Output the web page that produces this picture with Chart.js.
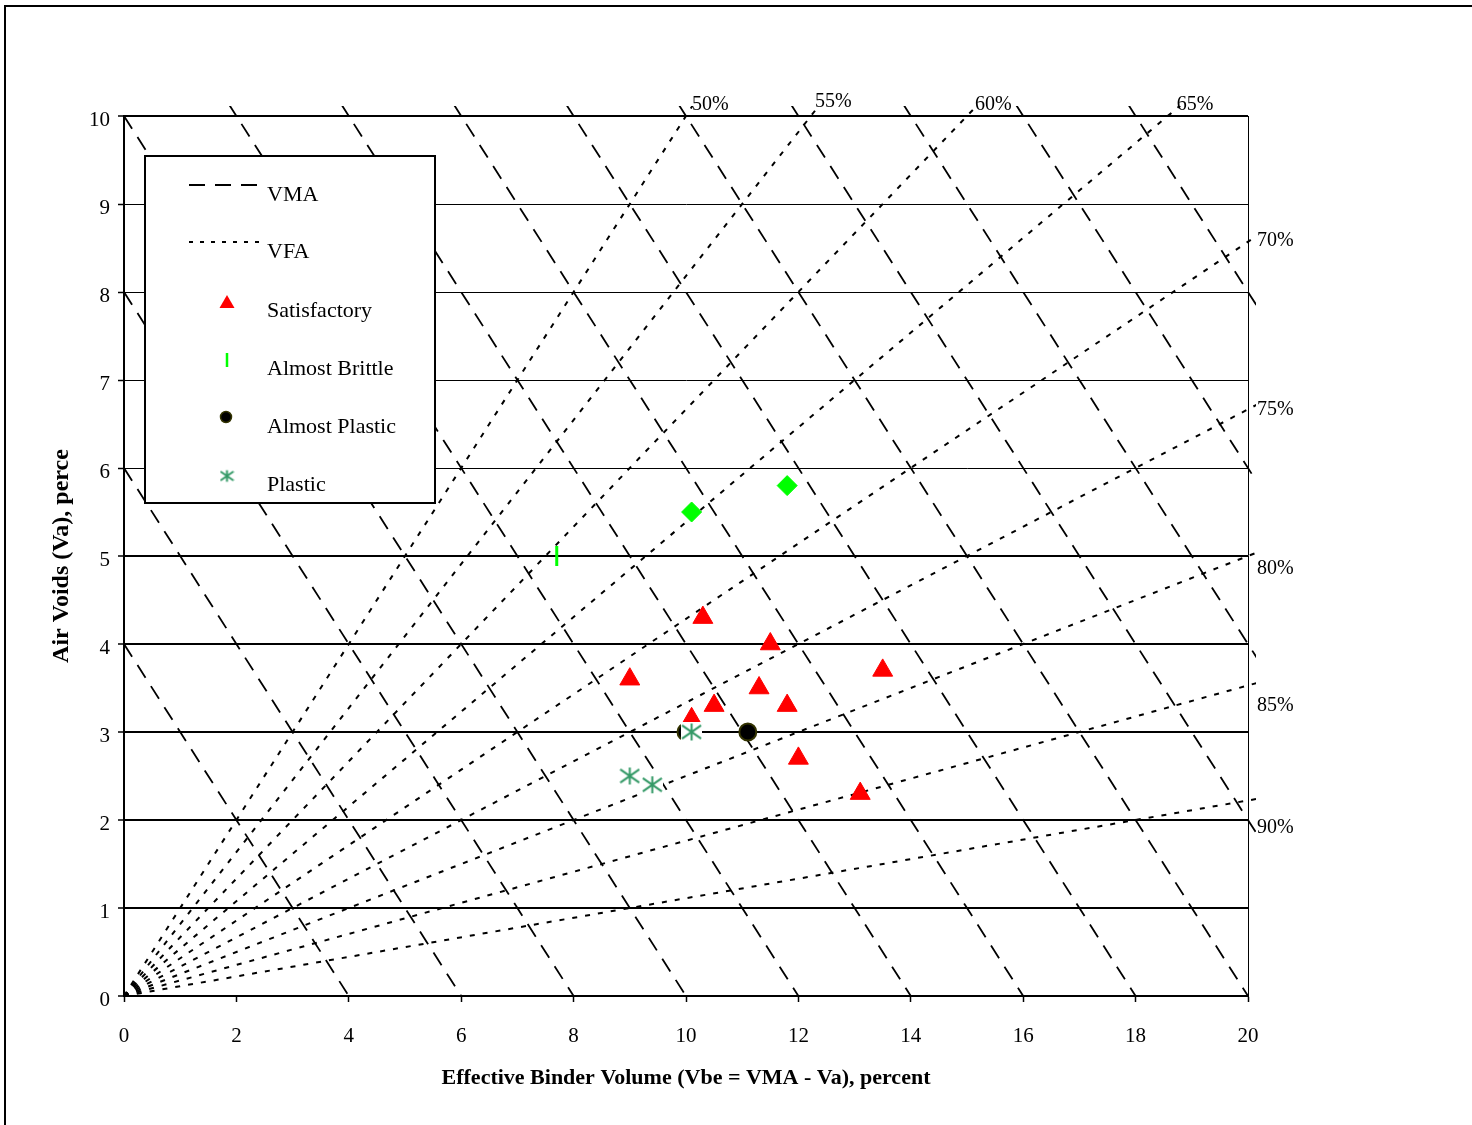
<!DOCTYPE html>
<html lang="en">
<head>
<meta charset="UTF-8">
<title>VMA / VFA chart</title>
<script src="https://cdn.jsdelivr.net/npm/chart.js"></script>
<style>
  body { margin: 0; background: #fff; }
  #wrap { width: 1472px; height: 1125px; }
</style>
</head>
<body>
<div id="wrap"><canvas id="chart" width="1472" height="1125"></canvas></div>
<script>
// reference lines
const vmaLevels = [4, 6, 8, 10, 12, 14, 16, 18, 20, 22, 24, 26, 28];
const vfaLevels = [50, 55, 60, 65, 70, 75, 80, 85, 90];
const vfaLabels = ['50%', '55%', '60%', '65%', '70%', '75%', '80%', '85%', '90%'];

// axes
const xTickValues = [0, 2, 4, 6, 8, 10, 12, 14, 16, 18, 20];
const yTickValues = [0, 1, 2, 3, 4, 5, 6, 7, 8, 9, 10];

// mixes (Vbe, Va)
const satisfactoryVbe = [10.3, 11.5, 9.0, 13.5, 11.3, 10.5, 11.8, 10.1, 12.0, 13.1];
const satisfactoryVa  = [4.3, 4.0, 3.6, 3.7, 3.5, 3.3, 3.3, 3.15, 2.7, 2.3];
const brittleVbe = [7.7];
const brittleVa  = [5.0];
const otherVbe = [10.1, 11.8];
const otherVa  = [5.5, 5.8];
const almostPlasticVbe = [10.0, 11.1];
const almostPlasticVa  = [3.0, 3.0];
const plasticVbe = [10.1, 9.0, 9.4];
const plasticVa  = [3.0, 2.5, 2.4];

// label nudges (px) for the VFA % labels
const vfaLabelNudge = [[6, -11], [4, -14], [8, -11], [9, -11], [9, -1], [9, 0], [9, 13], [9, 20], [9, 27]];

const serif = "'Liberation Serif', 'Times New Roman', serif";
const xMax = 20, yMax = 10;

function pairs(xs, ys) {
    return xs.map((x, i) => ({ x: x, y: ys[i] }));
}

// asterisk marker, optionally with a white box behind it
function starImage(size, withBox) {
    const c = document.createElement('canvas');
    c.width = size; c.height = size;
    const g = c.getContext('2d');
    if (withBox) { g.fillStyle = '#fff'; g.fillRect(0, 0, size, size); }
    const m = size / 2, r = size / 2 - 1;
    g.strokeStyle = '#339966';
    g.lineWidth = size > 14 ? 2 : 1.6;
    g.beginPath();
    g.moveTo(m, m - r * 0.9); g.lineTo(m, m + r * 0.9);
    g.moveTo(m - r, m - r * 0.7); g.lineTo(m + r, m + r * 0.7);
    g.moveTo(m + r, m - r * 0.7); g.lineTo(m - r, m + r * 0.7);
    g.stroke();
    return c;
}
const starBig = starImage(21, true);
const starSmall = starImage(15, false);

// lines of constant VMA: Va = VMA - Vbe (run a little past the top edge)
const vmaDatasets = vmaLevels.map(v => ({
    label: 'VMA ' + v,
    data: v > yMax ? [{ x: v - yMax - 0.15, y: yMax + 0.15 }, { x: v, y: 0 }] : [{ x: 0, y: v }, { x: v, y: 0 }],
    showLine: true,
    borderColor: '#000',
    borderWidth: 1.8,
    borderDash: [15, 10],
    pointRadius: 0,
    clip: { left: 0, top: 10, right: 8, bottom: 0 }
}));

// lines of constant VFA: Va = Vbe * (1 - VFA) / VFA
const vfaDatasets = vfaLevels.map(p => {
    const k = (100 - p) / p;
    return {
        label: 'VFA ' + p,
        data: [{ x: 0, y: 0 }, { x: 21, y: 21 * k }],
        showLine: true,
        borderColor: '#000',
        borderWidth: 2,
        borderDash: [5, 8],
        pointRadius: 0,
        clip: { left: 0, top: 10, right: 8, bottom: 0 }
    };
});

const decor = {
    id: 'decor',
    beforeDraw(chart) {
        const c = chart.ctx;
        c.save();
        c.fillStyle = '#fff';
        c.fillRect(0, 0, chart.width, chart.height);
        c.strokeStyle = '#000';
        c.lineWidth = 2;
        c.beginPath();
        c.moveTo(5, chart.height); c.lineTo(5, 6); c.lineTo(chart.width, 6);
        c.stroke();
        c.restore();
    },
    afterDatasetsDraw(chart) {
        const c = chart.ctx, xs = chart.scales.x, ys = chart.scales.y, a = chart.chartArea;
        c.save();
        // VFA labels at the line ends
        c.font = '20px ' + serif;
        c.fillStyle = '#000';
        c.textAlign = 'left';
        c.textBaseline = 'middle';
        vfaLevels.forEach((p, i) => {
            const k = (100 - p) / p;
            let px, py;
            if (xMax * k >= yMax) { px = xs.getPixelForValue(yMax / k); py = ys.getPixelForValue(yMax); }
            else { px = xs.getPixelForValue(xMax); py = ys.getPixelForValue(xMax * k); }
            c.fillText(vfaLabels[i], px + vfaLabelNudge[i][0], py + vfaLabelNudge[i][1]);
        });

        // legend box
        const bx = a.left + 21, by = a.top + 40, bw = 290, bh = 347;
        c.fillStyle = '#fff';
        c.fillRect(bx, by, bw, bh);
        c.strokeStyle = '#000';
        c.lineWidth = 2;
        c.strokeRect(bx, by, bw, bh);

        const tx = bx + 122, mx = bx + 82;
        c.lineWidth = 2;
        c.setLineDash([16, 10]);
        c.beginPath(); c.moveTo(bx + 44, by + 29); c.lineTo(bx + 112, by + 29); c.stroke();
        c.setLineDash([4, 7]);
        c.beginPath(); c.moveTo(bx + 44, by + 86); c.lineTo(bx + 120, by + 86); c.stroke();
        c.setLineDash([]);

        // triangle
        c.fillStyle = '#ff0000';
        c.beginPath();
        c.moveTo(mx, by + 139); c.lineTo(mx + 7.5, by + 152); c.lineTo(mx - 7.5, by + 152);
        c.closePath(); c.fill();
        // brittle tick
        c.strokeStyle = '#00ff00';
        c.lineWidth = 2.5;
        c.beginPath(); c.moveTo(mx, by + 197); c.lineTo(mx, by + 211); c.stroke();
        // circle
        c.fillStyle = '#000';
        c.strokeStyle = '#333300';
        c.lineWidth = 1.5;
        c.beginPath(); c.arc(mx - 1, by + 261, 5.5, 0, Math.PI * 2); c.fill(); c.stroke();
        // star
        c.drawImage(starSmall, mx - 7.5, by + 320 - 7.5);

        c.fillStyle = '#000';
        c.font = '22px ' + serif;
        const names = ['VMA', 'VFA', 'Satisfactory', 'Almost Brittle', 'Almost Plastic', 'Plastic'];
        const rows = [39, 96, 155, 213, 271, 329];
        names.forEach((n, i) => c.fillText(n, tx, by + rows[i]));
        c.restore();
    }
};

const ctx = document.getElementById('chart').getContext('2d');
const chart = new Chart(ctx, {
    type: 'scatter',
    data: {
        datasets: [
            {
                label: 'Plastic',
                data: pairs(plasticVbe, plasticVa),
                pointStyle: starBig,
                pointRadius: 10
            },
            {
                label: 'Almost Plastic',
                data: pairs(almostPlasticVbe, almostPlasticVa),
                pointStyle: 'circle',
                pointRadius: 8.5,
                backgroundColor: '#000',
                borderColor: '#333300',
                borderWidth: 2
            },
            {
                label: 'Satisfactory',
                data: pairs(satisfactoryVbe, satisfactoryVa),
                pointStyle: 'triangle',
                pointRadius: 11.5,
                backgroundColor: '#ff0000',
                borderColor: '#ff0000',
                borderWidth: 1
            },
            {
                label: 'Almost Brittle',
                data: pairs(brittleVbe, brittleVa),
                pointStyle: 'line',
                pointRotation: 90,
                pointRadius: 10,
                borderColor: '#00ff00',
                borderWidth: 3
            },
            {
                label: 'Other',
                data: pairs(otherVbe, otherVa),
                pointStyle: 'rectRot',
                pointRadius: 10,
                backgroundColor: '#00ff00',
                borderColor: '#00ff00',
                borderWidth: 1
            },
            ...vfaDatasets,
            ...vmaDatasets
        ]
    },
    options: {
        responsive: false,
        animation: false,
        layout: { padding: { left: 0, top: 116, right: 224, bottom: 0 } },
        plugins: {
            legend: { display: false },
            tooltip: { enabled: false }
        },
        scales: {
            x: {
                type: 'linear',
                min: 0,
                max: xMax,
                afterBuildTicks: s => { s.ticks = xTickValues.map(v => ({ value: v })); },
                afterFit: s => { s.height = 129; },
                ticks: {
                    color: '#000',
                    font: { family: serif, size: 21 },
                    padding: 22,
                    maxRotation: 0,
                    autoSkip: false
                },
                grid: {
                    color: c => (c.tick && c.tick.value === xMax) ? '#000' : 'rgba(0,0,0,0)',
                    lineWidth: 1,
                    tickColor: '#000',
                    tickLength: 6,
                    tickWidth: 1.5
                },
                border: { color: '#000', width: 2 },
                title: {
                    display: true,
                    text: 'Effective Binder Volume (Vbe = VMA - Va), percent',
                    color: '#000',
                    font: { family: serif, size: 22, weight: 'bold' },
                    padding: { top: 0, bottom: 33 }
                }
            },
            y: {
                type: 'linear',
                min: 0,
                max: yMax,
                afterBuildTicks: s => { s.ticks = yTickValues.map(v => ({ value: v })); },
                afterFit: s => { s.width = 124; },
                ticks: {
                    color: '#000',
                    font: { family: serif, size: 21 },
                    padding: 8,
                    labelOffset: 4
                },
                grid: {
                    color: '#000',
                    lineWidth: c => (c.tick && (c.tick.value <= 5 || c.tick.value === yMax)) ? 2 : 1,
                    tickColor: '#000',
                    tickLength: 6,
                    tickWidth: 1.5
                },
                border: { color: '#000', width: 2 },
                title: {
                    display: true,
                    text: 'Air Voids (Va), perce',
                    color: '#000',
                    font: { family: serif, size: 24, weight: 'bold' },
                    padding: { top: 47, bottom: 0 }
                }
            }
        }
    },
    plugins: [decor]
});
</script>
</body>
</html>
